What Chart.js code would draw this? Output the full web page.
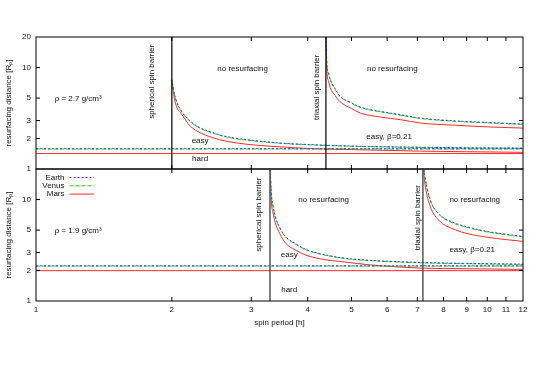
<!DOCTYPE html>
<html>
<head>
<meta charset="utf-8">
<script src="https://cdn.jsdelivr.net/npm/chart.js@4"></script>
<style>
  html, body { margin: 0; padding: 0; background: #fff; }
  canvas { position: absolute; left: 0; top: 0; }
</style>
</head>
<body>
<canvas id="upper" width="538" height="377"></canvas>
<canvas id="lower" width="538" height="377"></canvas>
<script>
// axis ticks
const periodTicks = [1, 2, 3, 4, 5, 6, 7, 8, 9, 10, 11, 12];
const distTicksUpper = [1, 2, 3, 5, 10, 20];
const distTicksLower = [1, 2, 3, 5, 10];

const planets = ['Earth', 'Venus', 'Mars'];

// rho = 2.7 g/cm3 (upper panel)
const upperBarriers = [2.0, 4.39];
const upperHard = [1.585, 1.575, 1.42];   // Earth, Venus, Mars

const upperSphP = [2.0, 2.025, 2.054, 2.09, 2.2, 2.31, 2.45, 2.65, 2.98, 3.5, 4.05, 5.13, 7.1, 9, 12];
const upperSphEarth = [7.6, 5.6, 4.5, 3.85, 2.95, 2.55, 2.3, 2.08, 1.93, 1.8, 1.74, 1.68, 1.64, 1.62, 1.61];
const upperSphVenus = [7.5, 5.5, 4.45, 3.8, 2.92, 2.52, 2.28, 2.06, 1.91, 1.79, 1.73, 1.67, 1.63, 1.61, 1.60];
const upperSphMars = [7.3, 5.0, 4.0, 3.6, 2.63, 2.28, 2.05, 1.87, 1.74, 1.65, 1.59, 1.55, 1.5, 1.48, 1.46];

const upperTriP = [4.39, 4.41, 4.45, 4.49, 4.6, 4.72, 5.0, 5.23, 5.8, 6.43, 7.1, 8.5, 10, 12];
const upperTriEarth = [24, 11, 8.8, 7.6, 6.2, 5.2, 4.5, 4.08, 3.7, 3.42, 3.18, 2.98, 2.88, 2.78];
const upperTriVenus = [23.5, 10.8, 8.7, 7.5, 6.1, 5.15, 4.45, 4.04, 3.66, 3.39, 3.15, 2.95, 2.85, 2.75];
const upperTriMars = [22, 9.5, 7.3, 6.3, 5.3, 4.6, 3.95, 3.56, 3.25, 3.06, 2.84, 2.7, 2.6, 2.53];

// rho = 1.9 g/cm3 (lower panel)
const lowerBarriers = [3.3, 7.2];
const lowerHard = [2.22, 2.21, 1.99];

const lowerSphP = [3.3, 3.32, 3.35, 3.39, 3.47, 3.57, 3.75, 3.95, 4.27, 4.84, 5.5, 7.1, 9, 12];
const lowerSphEarth = [24, 12, 8.8, 6.8, 5.3, 4.33, 3.7, 3.25, 2.92, 2.64, 2.52, 2.40, 2.35, 2.31];
const lowerSphVenus = [23.5, 11.8, 8.7, 6.7, 5.25, 4.28, 3.66, 3.22, 2.9, 2.62, 2.5, 2.38, 2.33, 2.29];
const lowerSphMars = [22, 10, 7.5, 5.9, 4.6, 3.73, 3.2, 2.85, 2.6, 2.42, 2.27, 2.11, 2.08, 2.05];

const lowerTriP = [7.2, 7.24, 7.3, 7.47, 7.85, 8.3, 8.93, 10, 11, 12];
const lowerTriEarth = [26, 20, 15.5, 10, 7.1, 6.1, 5.44, 4.85, 4.55, 4.33];
const lowerTriVenus = [25.5, 19.7, 15.2, 9.9, 7.0, 6.0, 5.38, 4.8, 4.5, 4.28];
const lowerTriMars = [23, 17, 13, 8.6, 6.1, 5.25, 4.68, 4.25, 4.03, 3.87];

// labels inside the panels: text, period, distance, vertical?
const upperNotes = [
  ['\u03c1 = 2.7 g/cm\u00b3', 1.24, 4.9, false],
  ['spherical spin barrier', 1.81, 7.25, true],
  ['no resurfacing', 2.87, 9.73, false],
  ['triaxial spin barrier', 4.18, 6.4, true],
  ['no resurfacing', 6.16, 9.73, false],
  ['easy', 2.31, 1.9, false],
  ['hard', 2.31, 1.27, false],
  ['easy, \u03b2=0.21', 6.06, 2.1, false]
];
const lowerNotes = [
  ['\u03c1 = 1.9 g/cm\u00b3', 1.24, 4.93, false],
  ['spherical spin barrier', 3.12, 7.1, true],
  ['no resurfacing', 4.34, 9.84, false],
  ['easy', 3.64, 2.87, false],
  ['hard', 3.64, 1.285, false],
  ['triaxial spin barrier', 7.03, 6.63, true],
  ['no resurfacing', 9.38, 9.84, false],
  ['easy, \u03b2=0.21', 9.26, 3.2, false]
];

const planetColors = ['#3a3aff', '#10d010', '#ff2a2a'];
const planetDash = [[2, 2], [4, 2], []];
const FONT = '"Liberation Sans", Arial, sans-serif';

Chart.defaults.font.family = FONT;
Chart.defaults.font.size = 8;
Chart.defaults.color = '#111';

function line(xs, ys, color, dash, width, smooth) {
  return {
    data: xs.map((x, i) => ({ x: x, y: ys[i] })),
    borderColor: color,
    borderDash: dash,
    borderWidth: width || 1,
    pointRadius: 0,
    fill: false,
    tension: 0,
    cubicInterpolationMode: smooth ? 'monotone' : 'default'
  };
}

function panelSets(hard, barriers, barrierColor, barrierWidth, sph, tri, sphP, triP) {
  const sets = [];
  barriers.forEach(p => sets.push(line([p, p], [1, 20], barrierColor, [], barrierWidth, false)));
  for (let i = 0; i < 3; i++) {
    sets.push(line([1, 12], [hard[i], hard[i]], planetColors[i], planetDash[i], 1, false));
    sets.push(line(sphP, sph[i], planetColors[i], planetDash[i], 1, true));
    sets.push(line(triP, tri[i], planetColors[i], planetDash[i], 1, true));
  }
  return sets;
}

const framePlugin = {
  id: 'frame',
  afterDraw(chart, args, opts) {
    const ctx = chart.ctx;
    const a = chart.chartArea;
    const x = chart.scales.x;
    const y = chart.scales.y;
    ctx.save();
    ctx.strokeStyle = '#000';
    ctx.lineWidth = 1;
    ctx.strokeRect(a.left, a.top, a.right - a.left, a.bottom - a.top);
    ctx.beginPath();
    periodTicks.slice(1, -1).forEach(p => {
      const px = x.getPixelForValue(p);
      ctx.moveTo(px, a.top); ctx.lineTo(px, a.top + 4);
      ctx.moveTo(px, a.bottom); ctx.lineTo(px, a.bottom - 4);
    });
    [2, 3, 5, 10].forEach(v => {
      const py = y.getPixelForValue(v);
      ctx.moveTo(a.left, py); ctx.lineTo(a.left + 4, py);
      ctx.moveTo(a.right, py); ctx.lineTo(a.right - 4, py);
    });
    ctx.stroke();

    ctx.fillStyle = '#111';
    ctx.font = '8px ' + FONT;
    ctx.textAlign = 'center';
    ctx.textBaseline = 'middle';
    opts.notes.forEach(([t, p, v, vertical]) => {
      const px = x.getPixelForValue(p);
      const py = y.getPixelForValue(v);
      if (vertical) {
        ctx.save();
        ctx.translate(px, py);
        ctx.rotate(-Math.PI / 2);
        ctx.fillText(t, 0, 0);
        ctx.restore();
      } else {
        ctx.fillText(t, px, py);
      }
    });

    if (opts.legend) {
      planets.forEach((name, i) => {
        const ly = a.top + 8.5 + i * 8.3;
        ctx.textAlign = 'right';
        ctx.fillText(name, a.left + 28.5, ly);
        ctx.strokeStyle = planetColors[i];
        ctx.setLineDash(planetDash[i]);
        ctx.beginPath();
        ctx.moveTo(a.left + 33.5, ly);
        ctx.lineTo(a.left + 58, ly);
        ctx.stroke();
      });
      ctx.setLineDash([]);
    }
    ctx.restore();
  }
};

function makeChart(id, datasets, yTicks, padding, showX, notes, legend) {
  return new Chart(document.getElementById(id).getContext('2d'), {
    type: 'line',
    data: { datasets: datasets },
    plugins: [framePlugin],
    options: {
      responsive: false,
      animation: false,
      layout: { padding: padding },
      plugins: {
        legend: { display: false },
        tooltip: { enabled: false },
        frame: { notes: notes, legend: legend }
      },
      scales: {
        x: {
          type: 'logarithmic',
          min: 1,
          max: 12,
          display: showX,
          afterBuildTicks: s => { s.ticks = periodTicks.map(v => ({ value: v })); },
          afterFit: s => { s.height = showX ? 76 : 0; },
          grid: { display: false, drawTicks: false },
          border: { display: false },
          ticks: { autoSkip: false, maxRotation: 0, padding: 4, callback: v => String(v) },
          title: { display: true, text: 'spin period [h]', padding: { top: 0, bottom: 49.5 } }
        },
        y: {
          type: 'logarithmic',
          min: 1,
          max: 20,
          afterBuildTicks: s => { s.ticks = yTicks.map(v => ({ value: v })); },
          afterFit: s => { s.width = 36; },
          grid: { display: false, drawTicks: false },
          border: { display: false },
          ticks: { autoSkip: false, padding: 5, callback: v => String(v) },
          title: { display: true, text: 'resurfacing distance [R\u209a]', padding: { top: 3.9, bottom: 0 } }
        }
      }
    }
  });
}

const upperChart = makeChart('upper',
  panelSets(upperHard, upperBarriers, '#000', 1.2,
    [upperSphEarth, upperSphVenus, upperSphMars],
    [upperTriEarth, upperTriVenus, upperTriMars], upperSphP, upperTriP),
  distTicksUpper, { top: 37, right: 15, bottom: 208, left: 0 }, false, upperNotes, false);

const lowerChart = makeChart('lower',
  panelSets(lowerHard, lowerBarriers, '#555', 1.5,
    [lowerSphEarth, lowerSphVenus, lowerSphMars],
    [lowerTriEarth, lowerTriVenus, lowerTriMars], lowerSphP, lowerTriP),
  distTicksLower, { top: 169, right: 15, bottom: 0, left: 0 }, true, lowerNotes, true);
</script>
</body>
</html>
